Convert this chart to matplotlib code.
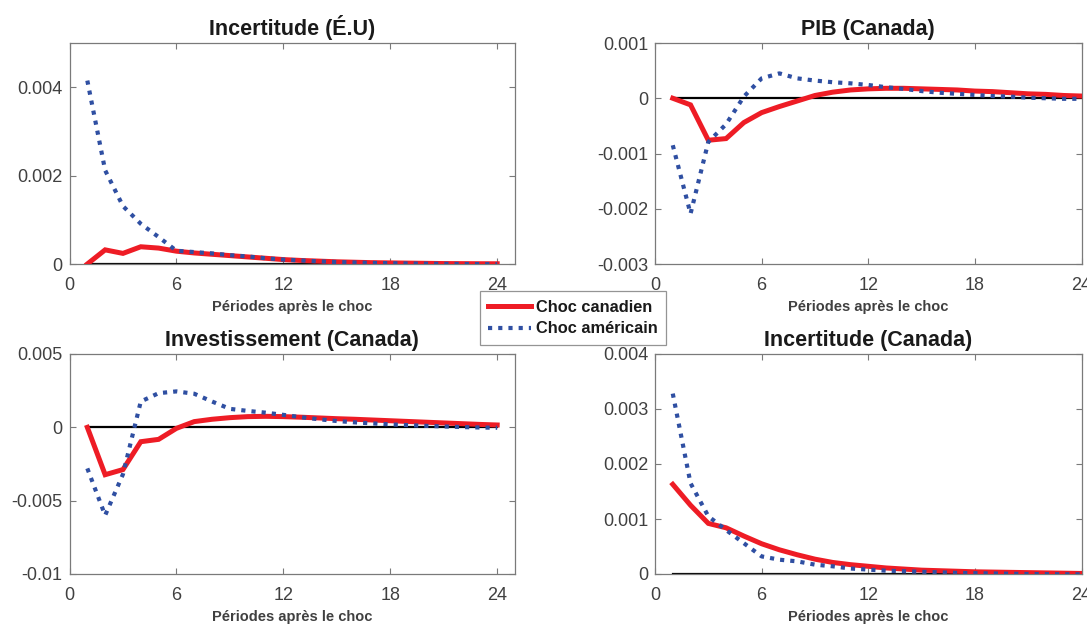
import matplotlib
matplotlib.use("Agg")
import matplotlib.pyplot as plt
from matplotlib.lines import Line2D

plt.rcParams['font.family'] = ['Liberation Sans', 'DejaVu Sans']

periods = list(range(1, 25))

# Incertitude (É.U)
us_unc_ca = [0.0, 0.32e-3, 0.24e-3, 0.39e-3, 0.36e-3, 0.29e-3, 0.25e-3, 0.22e-3, 0.19e-3, 0.16e-3,
             0.13e-3, 0.10e-3, 0.08e-3, 0.065e-3, 0.05e-3, 0.04e-3, 0.03e-3, 0.025e-3, 0.02e-3, 0.015e-3,
             0.01e-3, 0.008e-3, 0.006e-3, 0.005e-3]
us_unc_us = [4.15e-3, 2.12e-3, 1.31e-3, 0.91e-3, 0.61e-3, 0.30e-3, 0.27e-3, 0.24e-3, 0.20e-3, 0.17e-3,
             0.13e-3, 0.10e-3, 0.08e-3, 0.06e-3, 0.045e-3, 0.035e-3, 0.025e-3, 0.018e-3, 0.012e-3, 0.008e-3,
             0.004e-3, 0.0, -0.003e-3, -0.005e-3]

# PIB (Canada)
gdp_ca = [0.0, -0.12e-3, -0.76e-3, -0.73e-3, -0.44e-3, -0.26e-3, -0.15e-3, -0.05e-3, 0.05e-3, 0.11e-3,
          0.15e-3, 0.17e-3, 0.18e-3, 0.18e-3, 0.17e-3, 0.16e-3, 0.15e-3, 0.13e-3, 0.12e-3, 0.10e-3,
          0.08e-3, 0.07e-3, 0.05e-3, 0.04e-3]
gdp_us = [-0.85e-3, -2.09e-3, -0.79e-3, -0.47e-3, 0.03e-3, 0.36e-3, 0.45e-3, 0.36e-3, 0.32e-3, 0.29e-3,
          0.27e-3, 0.24e-3, 0.20e-3, 0.17e-3, 0.13e-3, 0.10e-3, 0.08e-3, 0.06e-3, 0.04e-3, 0.03e-3,
          0.01e-3, 0.0, -0.01e-3, -0.01e-3]

# Investissement (Canada)
inv_ca = [0.0, -3.23e-3, -2.88e-3, -0.98e-3, -0.82e-3, -0.07e-3, 0.39e-3, 0.55e-3, 0.66e-3, 0.73e-3,
          0.75e-3, 0.73e-3, 0.69e-3, 0.64e-3, 0.59e-3, 0.55e-3, 0.50e-3, 0.45e-3, 0.40e-3, 0.35e-3,
          0.30e-3, 0.25e-3, 0.20e-3, 0.16e-3]
inv_us = [-2.8e-3, -6.0e-3, -3.2e-3, 1.76e-3, 2.33e-3, 2.45e-3, 2.29e-3, 1.76e-3, 1.26e-3, 1.12e-3,
          1.0e-3, 0.85e-3, 0.69e-3, 0.55e-3, 0.43e-3, 0.34e-3, 0.27e-3, 0.20e-3, 0.15e-3, 0.10e-3,
          0.06e-3, 0.02e-3, -0.01e-3, -0.03e-3]

# Incertitude (Canada)
ca_unc_ca = [1.63e-3, 1.25e-3, 0.92e-3, 0.84e-3, 0.69e-3, 0.55e-3, 0.44e-3, 0.35e-3, 0.27e-3, 0.21e-3,
             0.17e-3, 0.14e-3, 0.11e-3, 0.09e-3, 0.07e-3, 0.06e-3, 0.05e-3, 0.04e-3, 0.035e-3, 0.03e-3,
             0.025e-3, 0.02e-3, 0.015e-3, 0.01e-3]
ca_unc_us = [3.28e-3, 1.65e-3, 1.05e-3, 0.80e-3, 0.56e-3, 0.32e-3, 0.26e-3, 0.23e-3, 0.17e-3, 0.14e-3,
             0.10e-3, 0.08e-3, 0.06e-3, 0.05e-3, 0.04e-3, 0.03e-3, 0.02e-3, 0.015e-3, 0.01e-3, 0.005e-3,
             0.0, -0.003e-3, -0.005e-3, -0.006e-3]

titles = ['Incertitude (É.U)', 'PIB (Canada)', 'Investissement (Canada)', 'Incertitude (Canada)']
xlabel = 'Périodes après le choc'
xticks = [0, 6, 12, 18, 24]
panels = [
    dict(ca=us_unc_ca, us=us_unc_us, ylim=(0, 0.005), yticks=[0, 0.002, 0.004],
         ylabels=['0', '0.002', '0.004'], xmax=25),
    dict(ca=gdp_ca, us=gdp_us, ylim=(-0.003, 0.001), yticks=[-0.003, -0.002, -0.001, 0, 0.001],
         ylabels=['-0.003', '-0.002', '-0.001', '0', '0.001'], xmax=24),
    dict(ca=inv_ca, us=inv_us, ylim=(-0.01, 0.005), yticks=[-0.01, -0.005, 0, 0.005],
         ylabels=['-0.01', '-0.005', '0', '0.005'], xmax=25),
    dict(ca=ca_unc_ca, us=ca_unc_us, ylim=(0, 0.004), yticks=[0, 0.001, 0.002, 0.003, 0.004],
         ylabels=['0', '0.001', '0.002', '0.003', '0.004'], xmax=24),
]
legend_labels = ['Choc canadien', 'Choc américain']

W, H = 1087, 624
fig = plt.figure(figsize=(W / 100, H / 100), dpi=100)
RED = '#EE1C25'
BLUE = '#2F4FA2'
AXC = '#7a7a7a'
TXC = '#404040'

rects = [(69.5, 43, 515, 264), (655, 43, 1081.5, 264), (69.5, 354, 515, 574), (655, 354, 1081.5, 574)]
for i, (p, r) in enumerate(zip(panels, rects)):
    l, t, rr, b = r
    ax = fig.add_axes([l / W, 1 - b / H, (rr - l) / W, (b - t) / H])
    ax.plot(periods, [0] * len(periods), color='black', lw=1.6, zorder=2)
    ax.plot(periods, p['ca'], color=RED, lw=3.6, solid_joinstyle='miter', zorder=3)
    ax.plot(periods, p['us'], color=BLUE, lw=3.0, linestyle=(0, (1, 1.45)),
            dash_capstyle='butt', zorder=4)
    ax.set_xlim(0, p['xmax'])
    ax.set_ylim(*p['ylim'])
    ax.set_xticks(xticks)
    ax.set_xticklabels([str(x) for x in xticks])
    ax.set_yticks(p['yticks'])
    ax.set_yticklabels(p['ylabels'])
    ax.tick_params(direction='in', length=4, width=0.8, color=AXC, labelcolor=TXC,
                   labelsize=13, top=True, right=True)
    ax.tick_params(axis='x', pad=9)
    ax.tick_params(axis='y', pad=5)
    for s in ax.spines.values():
        s.set_color(AXC)
        s.set_linewidth(0.9)
    ax.set_title(titles[i], fontsize=15.5, fontweight='bold', color='#1a1a1a', pad=6)
    ax.set_xlabel(xlabel, fontsize=10.5, fontweight='bold', color=TXC, labelpad=4.5)

handles = [Line2D([], [], color=RED, lw=3.6),
           Line2D([], [], color=BLUE, lw=3.0, linestyle=(0, (1, 1.45)), dash_capstyle='butt')]
leg = fig.legend(handles, legend_labels, loc='center', bbox_to_anchor=(573 / W, 1 - 318 / H),
                 frameon=True, fancybox=False, edgecolor=AXC,
                 prop={'weight': 'bold', 'size': 11.8}, handlelength=2.6, handletextpad=0.3,
                 borderpad=0.5, labelspacing=0.42, borderaxespad=0)
leg.get_frame().set_linewidth(0.9)
for txt in leg.get_texts():
    txt.set_color('#1a1a1a')

fig.savefig('out.png', dpi=100)
